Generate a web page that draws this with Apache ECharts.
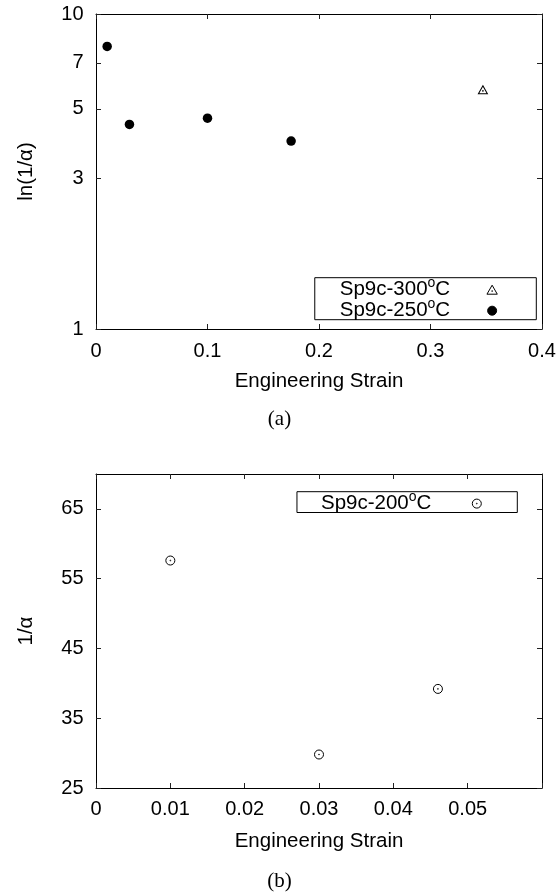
<!DOCTYPE html>
<html>
<head>
<meta charset="utf-8">
<script src="https://cdn.jsdelivr.net/npm/echarts@6/dist/echarts.min.js"></script>
<style>html,body{margin:0;padding:0;background:#fff}#c{width:559px;height:896px}</style>
</head>
<body>
<div id="c"></div>
<script>
// ---------- data ----------
const seriesA300Name = 'Sp9c-300°C';
const seriesA250Name = 'Sp9c-250°C';
const seriesB200Name = 'Sp9c-200°C';

const strainA300 = [0.347];
const lnInvAlphaA300 = [5.75];

const strainA250 = [0.01, 0.03, 0.1, 0.175];
const lnInvAlphaA250 = [7.89, 4.46, 4.67, 3.95];

const strainB200 = [0.01, 0.03, 0.046];
const invAlphaB200 = [57.6, 29.8, 39.2];

const yTicksA = [1, 3, 5, 7, 10];
const xTicksB = [0, 0.01, 0.02, 0.03, 0.04, 0.05];
const yTicksB = [25, 35, 45, 55, 65];

const captionA = '(a)';
const captionB = '(b)';
const xNameA = 'Engineering Strain';
const xNameB = 'Engineering Strain';
const yNameA = 'ln(1/α)';
const yNameB = '1/α';

// ---------- styling ----------
const FONT = "'Liberation Sans', Arial, Helvetica, sans-serif";
const SERIF = "'Liberation Serif', 'DejaVu Serif', serif";
const pairs = (xs, ys) => xs.map((x, i) => [x, ys[i]]);

const TRI = 'path://M0,-4.6L4.6,3.4L-4.6,3.4Z M-0.35,0.6a0.35,0.35 0 1,0 0.7,0a0.35,0.35 0 1,0 -0.7,0Z';
const CIRC = 'path://M-4,0a4,4 0 1,0 8,0a4,4 0 1,0 -8,0Z M-0.35,0a0.35,0.35 0 1,0 0.7,0a0.35,0.35 0 1,0 -0.7,0Z';

const axisLine = { show: true, onZero: false, lineStyle: { color: '#000', width: 1 } };
const tick = { show: true, inside: true, length: 5, lineStyle: { color: '#222', width: 1 } };
const labelStyle = { fontSize: 20, fontFamily: FONT, color: '#000' };
const nameStyle = { fontSize: 20.5, fontFamily: FONT, color: '#000' };

const supFmt = name => '{a|' + name.replace('°C', '}{s|o}{a|C}');
const legendRich = {
  a: { fontFamily: FONT, fontSize: 20.5, lineHeight: 20, color: '#000', verticalAlign: 'middle' },
  s: { fontFamily: FONT, fontSize: 14, lineHeight: 14, color: '#000', verticalAlign: 'middle', padding: [-6.5, 0, 6.5, 0] }
};

const option = {
  animation: false,
  backgroundColor: '#fff',
  title: [
    { text: captionA, left: 'center', top: 408.5, padding: 0,
      textStyle: { fontFamily: SERIF, fontSize: 21, fontWeight: 'normal', color: '#000' } },
    { text: captionB, left: 'center', top: 870.5, padding: 0,
      textStyle: { fontFamily: SERIF, fontSize: 21, fontWeight: 'normal', color: '#000' } }
  ],
  grid: [
    { left: 96, top: 14, width: 446, height: 315, containLabel: false, outerBoundsMode: 'none' },
    { left: 96, top: 474, width: 446, height: 314, containLabel: false, outerBoundsMode: 'none' }
  ],
  xAxis: [
    { gridIndex: 0, type: 'value', position: 'bottom', min: 0, max: 0.4, interval: 0.1,
      axisLine, axisTick: tick, splitLine: { show: false },
      axisLabel: Object.assign({ margin: 12 }, labelStyle),
      name: xNameA, nameLocation: 'middle', nameGap: 41.5, nameTextStyle: nameStyle },
    { gridIndex: 0, type: 'value', position: 'top', min: 0, max: 0.4, interval: 0.1,
      axisLine, axisTick: tick, splitLine: { show: false }, axisLabel: { show: false } },
    { gridIndex: 1, type: 'value', position: 'bottom', min: 0, max: 0.06, interval: 0.01,
      axisLine, axisTick: tick, splitLine: { show: false },
      axisLabel: Object.assign({ margin: 11, customValues: xTicksB }, labelStyle),
      name: xNameB, nameLocation: 'middle', nameGap: 43, nameTextStyle: nameStyle },
    { gridIndex: 1, type: 'value', position: 'top', min: 0, max: 0.06, interval: 0.01,
      axisLine, axisTick: tick, splitLine: { show: false }, axisLabel: { show: false } }
  ],
  yAxis: [
    { gridIndex: 0, type: 'log', logBase: 10, position: 'left', min: 1, max: 10,
      axisLine, axisTick: Object.assign({ customValues: yTicksA }, tick),
      minorTick: { show: false }, splitLine: { show: false }, minorSplitLine: { show: false },
      axisLabel: Object.assign({ margin: 12.5, customValues: yTicksA, formatter: v => String(v) }, labelStyle),
      name: yNameA, nameLocation: 'middle', nameGap: 59, nameTextStyle: nameStyle },
    { gridIndex: 0, type: 'log', logBase: 10, position: 'right', min: 1, max: 10,
      axisLine, axisTick: Object.assign({ customValues: yTicksA }, tick),
      minorTick: { show: false }, splitLine: { show: false }, axisLabel: { show: false } },
    { gridIndex: 1, type: 'value', position: 'left', min: 25, max: 70, interval: 10,
      axisLine, axisTick: Object.assign({ customValues: yTicksB }, tick), splitLine: { show: false },
      axisLabel: Object.assign({ margin: 12.5, customValues: yTicksB }, labelStyle),
      name: yNameB, nameLocation: 'middle', nameGap: 59, nameTextStyle: nameStyle },
    { gridIndex: 1, type: 'value', position: 'right', min: 25, max: 70, interval: 10,
      axisLine, axisTick: Object.assign({ customValues: yTicksB }, tick), splitLine: { show: false },
      axisLabel: { show: false } }
  ],
  legend: [
    { data: [seriesA300Name, seriesA250Name], orient: 'vertical', align: 'right',
      right: 22.7, top: 277.7, itemWidth: 74, itemHeight: 9, itemGap: -3,
      padding: [-1.5, 38.5, -1.5, 25], borderColor: '#000', borderWidth: 1, borderRadius: 0,
      backgroundColor: '#fff', selectedMode: false, formatter: supFmt,
      textStyle: { rich: legendRich }, itemStyle: { borderWidth: 1, opacity: 1 } },
    { data: [seriesB200Name], orient: 'vertical', align: 'right',
      right: 41.7, top: 491.7, itemWidth: 81, itemHeight: 9, itemGap: 0,
      padding: [-1.6, 35.5, -1.6, 24], borderColor: '#000', borderWidth: 1, borderRadius: 0,
      backgroundColor: '#fff', selectedMode: false, formatter: supFmt,
      textStyle: { rich: legendRich }, itemStyle: { borderWidth: 1, opacity: 1 } }
  ],
  series: [
    { name: seriesA300Name, type: 'scatter', xAxisIndex: 0, yAxisIndex: 0,
      data: pairs(strainA300, lnInvAlphaA300), symbol: TRI, symbolSize: [9, 8],
      itemStyle: { color: 'rgba(255,255,255,0)', borderColor: '#000', borderWidth: 1, opacity: 1 },
      emphasis: { disabled: true } },
    { name: seriesA250Name, type: 'scatter', xAxisIndex: 0, yAxisIndex: 0,
      data: pairs(strainA250, lnInvAlphaA250), symbol: 'circle', symbolSize: 9.5,
      itemStyle: { color: '#000', borderColor: '#000', borderWidth: 0, opacity: 1 },
      emphasis: { disabled: true } },
    { name: seriesB200Name, type: 'scatter', xAxisIndex: 2, yAxisIndex: 2,
      data: pairs(strainB200, invAlphaB200), symbol: CIRC, symbolSize: 9,
      itemStyle: { color: 'rgba(255,255,255,0)', borderColor: '#000', borderWidth: 1, opacity: 1 },
      emphasis: { disabled: true } }
  ]
};

const chart = echarts.init(document.getElementById('c'), null, { renderer: 'canvas' });
chart.setOption(option);
</script>
</body>
</html>
